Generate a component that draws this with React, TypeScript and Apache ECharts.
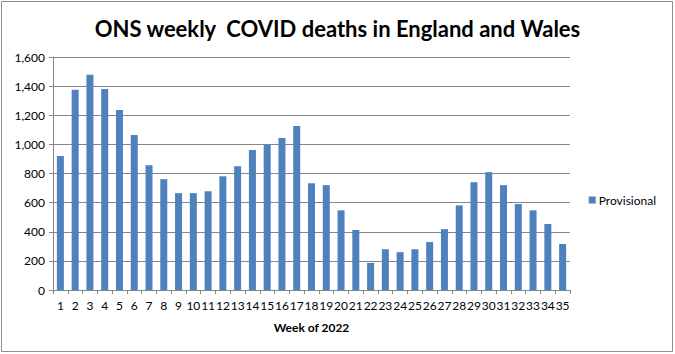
import React, { useEffect, useRef } from "react";
import * as echarts from "echarts";

const weeks: string[] = Array.from({ length: 35 }, (_, i) => String(i + 1));
const provisional: number[] = [
  920, 1375, 1478, 1381, 1236, 1064, 857, 761, 665, 665,
  678, 781, 850, 961, 1000, 1043, 1127, 733, 720, 547,
  412, 186, 280, 260, 280, 329, 418, 581, 740, 809,
  720, 590, 547, 453, 316,
];
const titleText = "ONS weekly  COVID deaths in England and Wales";
const xAxisTitle = "Week of 2022";
const seriesName = "Provisional";

const FONT = "Lato, 'Open Sans', sans-serif";

export default function App() {
  const ref = useRef<HTMLDivElement>(null);
  useEffect(() => {
    document.body.style.margin = "0";
    if (!ref.current) return;
    const chart = echarts.init(ref.current, undefined, { renderer: "svg" });
    chart.setOption({
      animation: false,
      backgroundColor: "#ffffff",
      title: {
        text: titleText,
        left: "center",
        top: 12,
        textStyle: { fontFamily: FONT, fontSize: 22, fontWeight: "bold", color: "#000" },
      },
      graphic: [
        {
          type: "rect",
          shape: { x: 1.5, y: 1.5, width: 671, height: 350 },
          style: { fill: "none", stroke: "#8c8c8c", lineWidth: 1 },
          silent: true,
        },
      ],
      legend: {
        show: true,
        right: 14,
        top: 189,
        orient: "vertical",
        itemWidth: 7,
        itemHeight: 7,
        itemGap: 4,
        icon: "rect",
        textStyle: { fontFamily: FONT, fontSize: 12, color: "#000", padding: [0, 0, 0, -2] },
        data: [seriesName],
      },
      grid: { left: 53, right: 105, top: 57, bottom: 64, containLabel: false },
      xAxis: {
        type: "category",
        data: weeks,
        name: xAxisTitle,
        nameLocation: "middle",
        nameGap: 31,
        nameTextStyle: { fontFamily: FONT, fontSize: 12, fontWeight: "bold", color: "#000" },
        axisLine: { lineStyle: { color: "#868686" } },
        axisTick: { show: true, length: 4, lineStyle: { color: "#868686" } },
        axisLabel: { interval: 0, fontFamily: FONT, fontSize: 12, color: "#000", margin: 9 },
        splitLine: { show: false },
      },
      yAxis: {
        type: "value",
        min: 0,
        max: 1600,
        interval: 200,
        axisLine: { show: true, lineStyle: { color: "#868686" } },
        axisTick: { show: true, length: 4, lineStyle: { color: "#868686" } },
        axisLabel: {
          fontFamily: FONT,
          fontSize: 12,
          color: "#000",
          margin: 8,
          formatter: (v: number) => v.toLocaleString("en-US"),
        },
        splitLine: { show: true, lineStyle: { color: "#868686", width: 1 } },
      },
      series: [
        {
          name: seriesName,
          type: "bar",
          data: provisional,
          barWidth: 7,
          itemStyle: { color: "#4F81BD" },
        },
      ],
    });
    return () => chart.dispose();
  }, []);
  return <div ref={ref} style={{ width: 675, height: 354 }} />;
}
